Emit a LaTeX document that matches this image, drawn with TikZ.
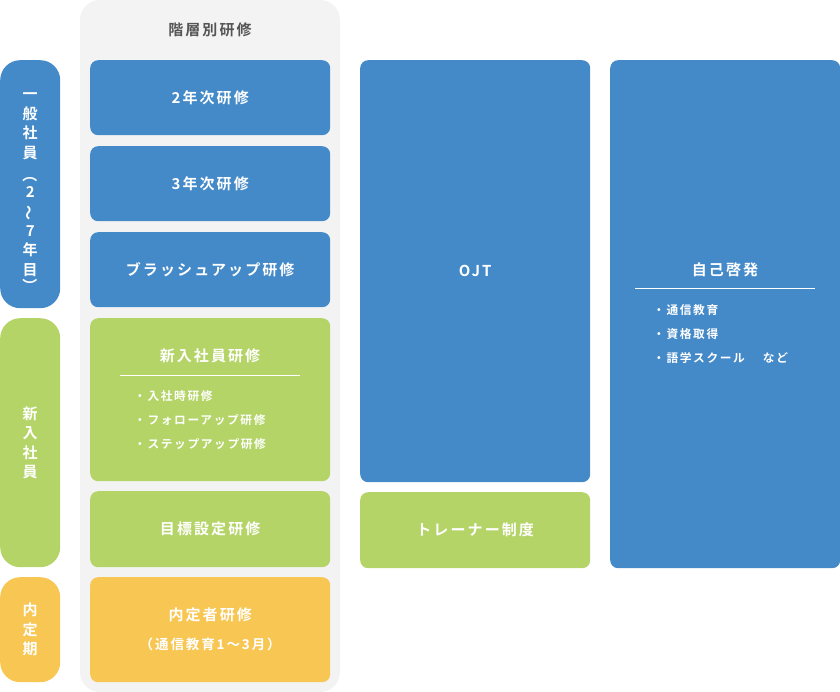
\documentclass[tikz,border=0pt]{standalone}
\usepackage{fontspec}
\setmainfont{Noto Sans CJK JP}[BoldFont=* Bold]
\newfontfamily\jpwide{Noto Sans CJK JP}[LetterSpace=14,BoldFont=* Bold]
\usetikzlibrary{positioning}
\definecolor{tblue}{RGB}{68,137,200}
\definecolor{tgreen}{RGB}{180,212,104}
\definecolor{tyellow}{RGB}{248,198,82}
\definecolor{tpanel}{RGB}{243,243,243}
\definecolor{ttitle}{RGB}{85,85,85}
% turned glyph for vertical text, kept at one line's height
\newcommand{\tateglyph}[2]{\raisebox{0pt}[0.75em][0.15em]{\rotatebox[origin=c]{#2}{#1}}}

\begin{document}
\begin{tikzpicture}[x=1pt, y=-1pt,
  band/.style={fill=#1, rounded corners=20pt, inner sep=0pt, minimum width=60pt, anchor=north west,
    text=white, align=center, font=\bfseries\fontsize{15}{19.5}\selectfont},
  course/.style={fill=#1, rounded corners=8pt, inner sep=0pt, anchor=north west, text=white,
    align=center, font=\jpwide\bfseries\fontsize{15}{18}\selectfont},
  head/.style={text=white, font=\jpwide\bfseries\fontsize{15}{18}\selectfont},
  items/.style={text=white, align=left, inner sep=0pt, anchor=north west,
    font=\jpwide\bfseries\fontsize{11.7}{24}\selectfont},
  sepline/.style={draw=white, line width=1pt}
]
\useasboundingbox (0,0) rectangle (840,692);

% 階層別研修 column
\fill[tpanel, rounded corners=20pt] (80,0) rectangle (340,692);
\node[text=ttitle, font=\jpwide\bfseries\fontsize{15}{18}\selectfont] (kaisou) at (210,30) {階層別研修};

% left bands
\node[band=tblue, minimum height=248pt] (ippan) at (0,60)
  {\rule{0pt}{25pt}一\\般\\社\\員\\[3pt]\tateglyph{（}{-90}\\[-3pt]2\\\tateglyph{〜}{90}\\7\\年\\目\\[-3pt]\tateglyph{）}{-90}};
\node[band=tgreen, minimum height=249pt] (shinnyu) at (0,318) {新\\入\\社\\員};
\node[band=tyellow, minimum height=105pt] (naitei) at (0,577) {内\\定\\期};

% courses
\node[course=tblue, minimum width=240pt, minimum height=75pt] (nen2) at (90,60) {2年次研修};
\node[course=tblue, minimum width=240pt, minimum height=75pt] (nen3) at (90,146) {3年次研修};
\node[course=tblue, minimum width=240pt, minimum height=75pt] (brush) at (90,232) {ブラッシュアップ研修};
\node[course=tgreen, minimum width=240pt, minimum height=163pt] (newhire) at (90,318) {};
\node[course=tgreen, minimum width=240pt, minimum height=76pt] (goal) at (90,491) {目標設定研修};
\node[course=tyellow, minimum width=240pt, minimum height=105pt] (offer) at (90,577)
  {内定者研修\\[11pt]{\fontsize{13.5}{16}\selectfont （通信教育1〜3月）}};

% 新入社員研修 contents
\node[head] (newhirehead) at (210,356) {新入社員研修};
\draw[sepline] (120,375) -- (300,375);
\node[items] (newhireitems) at (134,390) {・入社時研修\\・フォローアップ研修\\・ステップアップ研修};

% OJT / trainer
\node[course=tblue, minimum width=230pt, minimum height=422pt] (ojt) at (360,60) {OJT};
\node[course=tgreen, minimum width=230pt, minimum height=76pt] (trainer) at (360,492) {トレーナー制度};

% 自己啓発
\node[course=tblue, minimum width=230pt, minimum height=508pt] (selfdev) at (610,60) {};
\node[head] (selfdevhead) at (725,270) {自己啓発};
\draw[sepline] (635,289) -- (815,289);
\node[items] (selfdevitems) at (653,304) {・通信教育\\・資格取得\\・語学スクール\hspace{18pt}など};

\end{tikzpicture}
\end{document}
